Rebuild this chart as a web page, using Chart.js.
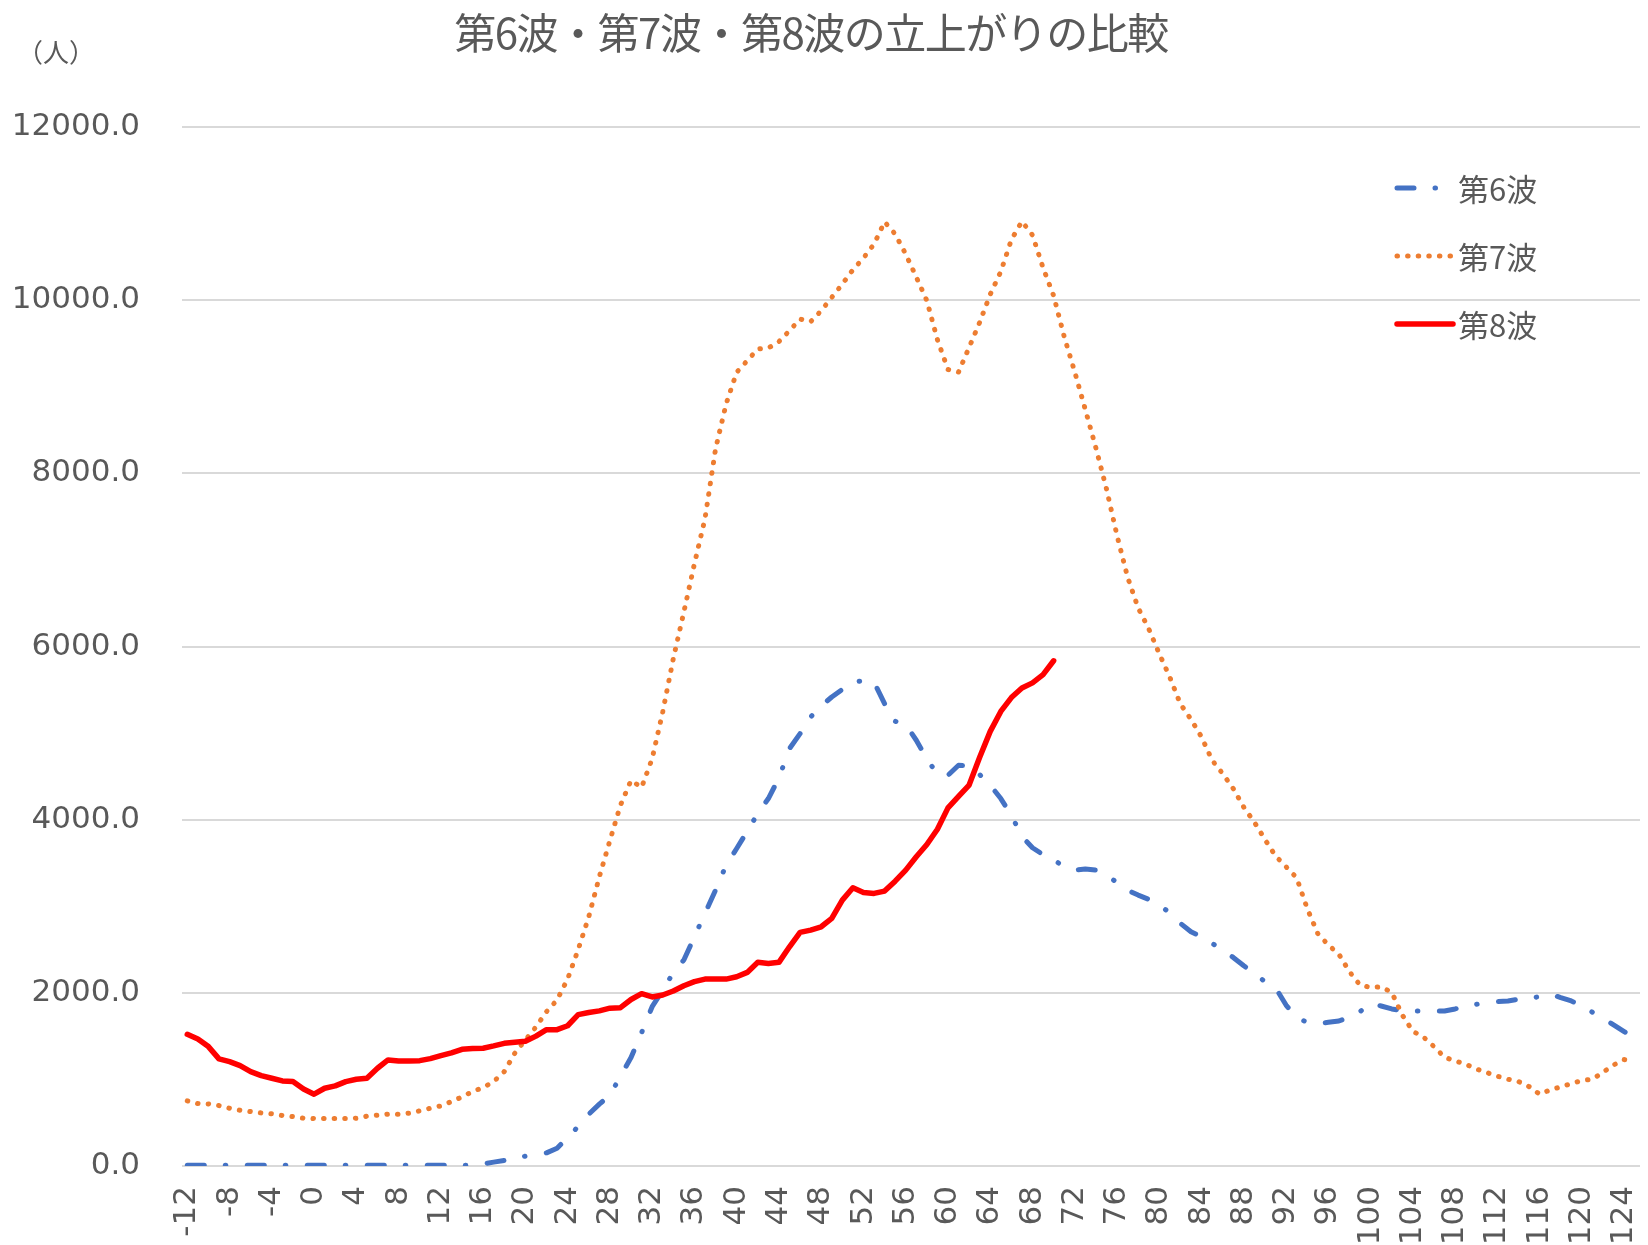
<!DOCTYPE html>
<html lang="ja">
<head>
<meta charset="utf-8">
<title>第6波・第7波・第8波の立上がりの比較</title>
<script src="https://cdn.jsdelivr.net/npm/chart.js@4.4.1/dist/chart.umd.min.js"></script>
<style>
  html, body { margin: 0; padding: 0; background: #fff; }
  #wrap { width: 1648px; height: 1245px; position: relative; }
</style>
</head>
<body>
<div id="wrap"><canvas id="chart"></canvas></div>
<script>
// days from the start of each wave
const days = [
  -12, -11, -10, -9, -8, -7, -6, -5, -4, -3, -2, -1, 0, 1, 2, 3, 4, 5, 6, 7,
  8, 9, 10, 11, 12, 13, 14, 15, 16, 17, 18, 19, 20, 21, 22, 23, 24, 25, 26, 27,
  28, 29, 30, 31, 32, 33, 34, 35, 36, 37, 38, 39, 40, 41, 42, 43, 44, 45, 46, 47,
  48, 49, 50, 51, 52, 53, 54, 55, 56, 57, 58, 59, 60, 61, 62, 63, 64, 65, 66, 67,
  68, 69, 70, 71, 72, 73, 74, 75, 76, 77, 78, 79, 80, 81, 82, 83, 84, 85, 86, 87,
  88, 89, 90, 91, 92, 93, 94, 95, 96, 97, 98, 99, 100, 101, 102, 103, 104, 105, 106, 107,
  108, 109, 110, 111, 112, 113, 114, 115, 116, 117, 118, 119, 120, 121, 122, 123, 124, 125
];
// labels shown on the x axis
const shownDays = [
  -12, -8, -4, 0, 4, 8, 12, 16, 20, 24, 28, 32, 36, 40, 44, 48, 52, 56, 60, 64,
  68, 72, 76, 80, 84, 88, 92, 96, 100, 104, 108, 112, 116, 120, 124
];

// 第6波
const wave6 = [
  10, 10, 10, 10, 10, 10, 10, 10, 10, 10,
  10, 10, 10, 10, 10, 10, 10, 10, 10, 10,
  10, 10, 10, 10, 10, 10,
  8, 10, 25, 45, 63, 87, 114, 133, 152, 206,
  329, 456, 598, 714, 817, 1037, 1252, 1540, 1840, 2032,
  2232, 2379, 2648, 2917, 3186, 3475, 3667, 3867, 4071, 4244,
  4482, 4821, 4994, 5186, 5313, 5417, 5505, 5590, 5605, 5590,
  5340, 5136, 5098, 4917, 4705, 4521, 4513, 4628, 4621, 4521,
  4398, 4244, 4052, 3805, 3676, 3596, 3538, 3455, 3417, 3430,
  3417, 3359, 3275, 3186, 3129, 3079, 3013, 2925, 2802, 2705,
  2648, 2571, 2494, 2409, 2313, 2225, 2129, 2059, 1859, 1713,
  1659, 1644, 1660, 1675, 1720, 1783, 1879, 1848, 1814, 1794,
  1790, 1790, 1790, 1790, 1814, 1844, 1867, 1891, 1898, 1906,
  1925, 1937, 1956, 1987, 1944, 1906, 1852, 1775, 1706, 1629,
  1552, 1475
];

// 第7波
const wave7 = [
  752, 721, 717, 698, 667, 644, 629, 613, 602, 583,
  571, 552, 548, 548, 548, 548, 552, 575, 587, 598,
  598, 610, 637, 667, 694, 744, 798, 860, 906, 975,
  1090, 1302, 1456, 1606, 1783, 1917, 2160, 2500, 2879, 3340,
  3759, 4167, 4455, 4371, 4705, 5244, 5859, 6398, 6955, 7475,
  8282, 8801, 9167, 9301, 9436, 9447, 9521, 9648, 9782, 9751,
  9878, 10032, 10186, 10351, 10486, 10647, 10905, 10763, 10532, 10267,
  9994, 9544, 9200, 9170, 9455, 9744, 10067, 10330, 10698, 10910,
  10751, 10374, 10051, 9578, 9171, 8736, 8294, 7821, 7282, 6801,
  6445, 6205, 5917, 5644, 5336, 5159, 4955, 4686, 4532, 4359,
  4144, 3971, 3771, 3582, 3456, 3329, 2975, 2686, 2552, 2446,
  2244, 2090, 2063, 2069, 2006, 1744, 1556, 1490, 1379, 1256,
  1214, 1175, 1121, 1079, 1037, 1002, 975, 917, 829, 879,
  914, 952, 987, 1002, 1083, 1167, 1229, 1214
];

// 第8波 (up to day 70)
const wave8 = [
  1521, 1467, 1379, 1237, 1206, 1160, 1090, 1044, 1014, 983,
  975, 890, 829, 898, 925, 975, 1002, 1014, 1129, 1225,
  1214, 1214, 1217, 1240, 1275, 1306, 1348, 1356, 1360, 1387,
  1417, 1429, 1440, 1500, 1575, 1575, 1620, 1748, 1773, 1792,
  1823, 1829, 1923, 1990, 1952, 1975, 2021, 2082, 2129, 2159,
  2159, 2159, 2186, 2236, 2352, 2340, 2352, 2532, 2698, 2725,
  2763, 2859, 3071, 3213, 3159, 3148, 3175, 3290, 3417, 3571,
  3713, 3890, 4136, 4270, 4400, 4720, 5020, 5250, 5410, 5521,
  5580, 5675, 5835
];

const seriesNames = ['第6波', '第7波', '第8波'];
const titleText = '第6波・第7波・第8波の立上がりの比較';
const unitText = '（人）';

const GRAY = '#595959';
const NUM_FONT = '"DejaVu Sans", "Noto Sans CJK JP", sans-serif';
const JP_FONT = '"Noto Sans CJK JP", "Noto Sans", sans-serif';

// title, unit label and legend drawn over the chart
const overlay = {
  id: 'overlay',
  afterDraw(chart) {
    const ctx = chart.ctx;
    ctx.save();
    ctx.fillStyle = GRAY;
    ctx.textBaseline = 'middle';
    ctx.textAlign = 'center';
    ctx.font = '42px ' + JP_FONT;
    ctx.letterSpacing = '-1.5px';
    ctx.fillText(titleText, 811, 33);
    ctx.letterSpacing = '0px';

    ctx.font = '26px ' + JP_FONT;
    ctx.fillText(unitText, 56, 52);

    ctx.textAlign = 'left';
    const legendY = [188, 256, 324];
    chart.data.datasets.forEach((ds, i) => {
      const y = legendY[i];
      ctx.beginPath();
      ctx.setLineDash(ds.borderDash || []);
      ctx.lineCap = ds.borderCapStyle;
      ctx.lineWidth = ds.borderWidth;
      ctx.strokeStyle = ds.borderColor;
      ctx.moveTo(1397, y);
      ctx.lineTo(1453, y);
      ctx.stroke();
      ctx.setLineDash([]);
      ctx.font = '31px ' + JP_FONT;
      ctx.fillText(ds.label, 1458, y + 1);
    });
    ctx.restore();
  }
};

new Chart(document.getElementById('chart'), {
  type: 'line',
  data: {
    labels: days,
    datasets: [
      {
        label: seriesNames[0],
        data: wave6,
        borderColor: '#4472C4',
        borderWidth: 5,
        borderDash: [17, 21, 0.5, 21.5],
        borderCapStyle: 'round',
        borderJoinStyle: 'round',
        pointRadius: 0,
        tension: 0,
        order: 3,
      },
      {
        label: seriesNames[1],
        data: wave7,
        borderColor: '#ED7D31',
        borderWidth: 5,
        borderDash: [0.5, 10.1],
        borderCapStyle: 'round',
        borderJoinStyle: 'round',
        pointRadius: 0,
        tension: 0,
        order: 2,
      },
      {
        label: seriesNames[2],
        data: wave8,
        borderColor: '#FF0000',
        borderWidth: 5.5,
        borderCapStyle: 'round',
        borderJoinStyle: 'round',
        pointRadius: 0,
        tension: 0,
        order: 1,
      },
    ],
  },
  options: {
    responsive: true,
    maintainAspectRatio: false,
    animation: false,
    layout: { padding: { top: 127, right: 8, left: 0, bottom: 0 } },
    plugins: {
      legend: { display: false },
      title: { display: false },
      tooltip: { enabled: false },
    },
    scales: {
      x: {
        offset: true,
        grid: { display: false, drawTicks: false },
        border: { display: false },
        ticks: {
          autoSkip: false,
          maxRotation: 90,
          minRotation: 90,
          padding: 20,
          color: GRAY,
          font: { family: NUM_FONT, size: 31 },
          callback(value, i) {
            return shownDays.includes(days[i]) ? String(days[i]) : null;
          },
        },
        afterFit(scale) {
          scale.height = 79;
          scale.paddingLeft = 0;
          scale.paddingRight = 0;
        },
      },
      y: {
        min: 0,
        max: 12000,
        grid: { color: '#d9d9d9', lineWidth: 2, drawTicks: false },
        border: { display: false },
        ticks: {
          stepSize: 2000,
          padding: 42,
          color: GRAY,
          font: { family: NUM_FONT, size: 31 },
          callback: (v) => v.toFixed(1),
        },
        afterFit(scale) { scale.width = 182; },
      },
    },
  },
  plugins: [overlay],
});
</script>
</body>
</html>
